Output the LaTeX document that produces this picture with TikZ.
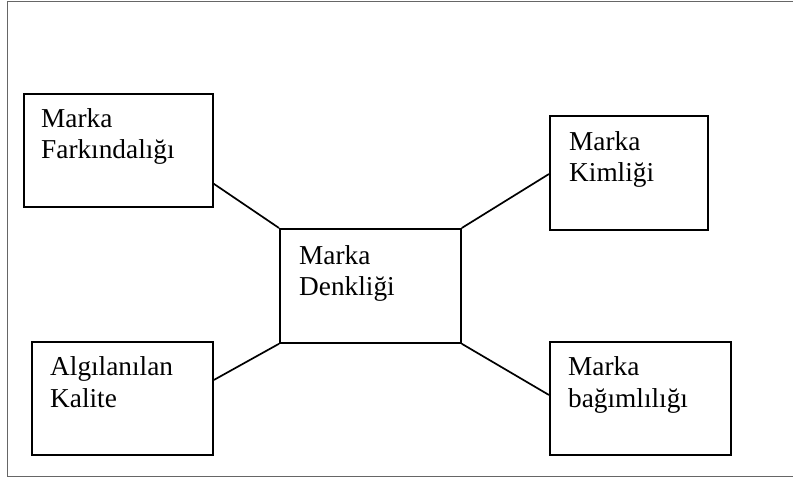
\documentclass[tikz,border=0pt]{standalone}
\usepackage{fontspec}
\setmainfont{Liberation Serif}
\begin{document}
\begin{tikzpicture}[x=1pt,y=-1pt,
  boxnode/.style={draw=black,line width=1.8pt,rectangle,inner sep=0pt,anchor=north west},
  lbl/.style={inner sep=0pt,anchor=base west,align=left,font=\fontsize{27.3}{31.5}\selectfont},
  conn/.style={line width=1.7pt,black},
  frame/.style={draw=black!60,line width=1.6pt}]
\useasboundingbox (0,0) rectangle (793,478);
\path[frame] (794,1.5) -- (7.5,1.5) -- (7.5,476.5) -- (794,476.5);
% boxes
\node[boxnode,minimum width=189pt,minimum height=113pt] (fark) at (23,93) {};
\node[boxnode,minimum width=158pt,minimum height=114pt] (kim) at (549,115) {};
\node[boxnode,minimum width=181pt,minimum height=114pt] (den) at (279,228) {};
\node[boxnode,minimum width=181pt,minimum height=113pt] (alg) at (31,341) {};
\node[boxnode,minimum width=181pt,minimum height=113pt] (bag) at (549,341) {};
% labels (anchored at baseline of last line)
\node[lbl] (tfark) at (41,159) {Marka\\Farkındalığı};
\node[lbl] (tkim) at (569,182) {Marka\\Kimliği};
\node[lbl] (tden) at (299,296) {Marka\\Denkliği};
\node[lbl] (talg) at (50,407) {Algılanılan\\Kalite};
\node[lbl] (tbag) at (568,407) {Marka\\bağımlılığı};
% connectors
\draw[conn] (fark.south east) ++(0,-24) coordinate (c1) -- (den.north west);
\draw[conn] (kim.north west) ++(0,59) coordinate (c2) -- (den.north east);
\draw[conn] (alg.north east) ++(0,39) coordinate (c3) -- (den.south west);
\draw[conn] (bag.north west) ++(0,54) coordinate (c4) -- (den.south east);
\end{tikzpicture}
\end{document}
